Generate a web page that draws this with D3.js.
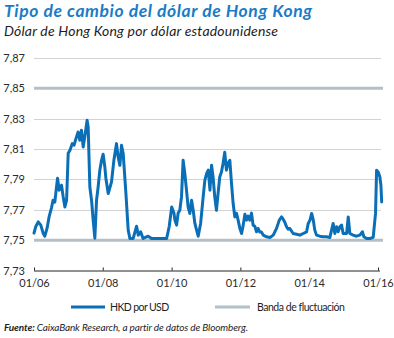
<!DOCTYPE html>
<html>
<head>
<meta charset="utf-8">
<script src="https://cdn.jsdelivr.net/npm/d3@7"></script>
<style>
  html, body { margin: 0; padding: 0; background: #fff; }
  svg { display: block; font-family: Lato, "Open Sans", sans-serif; }
</style>
</head>
<body>
<svg id="chart" width="394" height="338"></svg>
<script>
// ---- Data ----
const dates = [
  "2006-01-01","2006-01-21","2006-02-15","2006-03-14","2006-04-08","2006-04-26","2006-05-20","2006-06-10",
  "2006-07-05","2006-07-22","2006-08-10","2006-08-28","2006-09-08","2006-09-25","2006-10-20","2006-11-07",
  "2006-11-25","2006-12-13","2006-12-30","2007-01-18","2007-02-11","2007-03-02","2007-03-28","2007-04-14",
  "2007-05-02","2007-05-20","2007-06-07","2007-06-25","2007-07-19","2007-07-30","2007-08-17","2007-09-04",
  "2007-09-21","2007-10-09","2007-10-27","2007-11-13","2007-12-01","2007-12-19","2008-01-05","2008-01-23",
  "2008-02-03","2008-02-28","2008-04-03","2008-04-28","2008-05-26","2008-06-12","2008-07-01","2008-07-18",
  "2008-08-05","2008-09-03","2008-09-27","2008-10-15","2008-11-19","2008-12-25","2009-01-12","2009-02-06",
  "2009-03-04","2009-04-27","2009-06-02","2009-08-12","2009-11-09","2009-12-06","2010-01-02","2010-01-26",
  "2010-02-05","2010-02-23","2010-03-11","2010-03-29","2010-04-16","2010-05-03","2010-05-21","2010-06-08",
  "2010-06-25","2010-07-13","2010-08-01","2010-08-18","2010-09-05","2010-09-23","2010-10-10","2010-11-05",
  "2010-12-02","2010-12-20","2011-01-08","2011-01-25","2011-02-12","2011-03-01","2011-03-17","2011-04-04",
  "2011-04-22","2011-05-09","2011-05-27","2011-06-14","2011-07-01","2011-07-19","2011-08-06","2011-08-23",
  "2011-09-11","2011-09-29","2011-10-16","2011-11-03","2011-11-21","2011-12-08","2011-12-26","2012-01-14",
  "2012-01-31","2012-02-18","2012-03-06","2012-03-23","2012-04-10","2012-04-28","2012-05-15","2012-06-02",
  "2012-06-20","2012-07-07","2012-07-25","2012-08-12","2012-08-30","2012-10-05","2012-11-10","2012-12-15",
  "2013-01-20","2013-02-17","2013-03-13","2013-03-30","2013-04-17","2013-05-05","2013-05-22","2013-06-09",
  "2013-07-14","2013-08-20","2013-09-24","2013-10-29","2013-12-04","2013-12-21","2014-01-09","2014-01-27",
  "2014-02-13","2014-03-01","2014-03-19","2014-04-23","2014-05-28","2014-07-03","2014-08-08","2014-08-26",
  "2014-09-12","2014-09-30","2014-10-18","2014-11-04","2014-11-22","2014-12-10","2014-12-27","2015-02-02",
  "2015-02-19","2015-03-08","2015-04-12","2015-05-18","2015-06-22","2015-07-20","2015-08-04","2015-09-02",
  "2015-10-07","2015-11-11","2015-12-06","2015-12-17","2016-01-03","2016-01-21","2016-02-01","2016-02-09"
];
const hkd = [
  7.7546,7.7592,7.7620,7.7599,7.7546,7.7526,7.7579,7.7653,
  7.7711,7.7763,7.7750,7.7851,7.7908,7.7829,7.7862,7.7785,
  7.7719,7.7763,7.8072,7.8092,7.8136,7.8125,7.8180,7.8213,
  7.8158,7.8224,7.8114,7.8184,7.8290,7.8246,7.7849,7.7763,
  7.7632,7.7513,7.7763,7.7851,7.7961,7.8026,7.8066,7.7982,
  7.7908,7.7807,7.7884,7.8026,7.8136,7.8048,7.7993,7.8125,
  7.8070,7.7807,7.7566,7.7511,7.7511,7.7592,7.7533,7.7555,
  7.7511,7.7526,7.7511,7.7511,7.7511,7.7588,7.7719,7.7678,
  7.7632,7.7599,7.7678,7.7697,7.7785,7.8026,7.7939,7.7829,
  7.7719,7.7676,7.7763,7.7697,7.7610,7.7566,7.7526,7.7610,
  7.7785,7.7895,7.7939,7.7961,7.7829,7.7993,7.7916,7.7785,
  7.7697,7.7807,7.7916,7.7949,7.8005,7.8079,7.7961,7.8007,
  7.8026,7.7873,7.7743,7.7653,7.7676,7.7632,7.7579,7.7544,
  7.7599,7.7671,7.7632,7.7658,7.7632,7.7678,7.7599,7.7592,
  7.7555,7.7577,7.7553,7.7553,7.7533,7.7522,7.7518,7.7533,
  7.7579,7.7632,7.7653,7.7638,7.7618,7.7588,7.7572,7.7577,
  7.7544,7.7539,7.7533,7.7544,7.7555,7.7610,7.7632,7.7676,
  7.7632,7.7566,7.7533,7.7526,7.7522,7.7522,7.7518,7.7566,
  7.7610,7.7544,7.7588,7.7555,7.7588,7.7599,7.7544,7.7544,
  7.7653,7.7544,7.7533,7.7526,7.7533,7.7555,7.7522,7.7511,
  7.7511,7.7518,7.7678,7.7961,7.7949,7.7916,7.7862,7.7752
];
const bandValues = [7.75, 7.85];
const yTicks = [7.73, 7.75, 7.77, 7.79, 7.81, 7.83, 7.85, 7.87];
const xTickLabels = ["01/06","01/08","01/10","01/12","01/14","01/16"];
const xTickDates = ["2006-01-01","2008-01-01","2010-01-01","2012-01-01","2014-01-01","2016-01-01"];
const title = "Tipo de cambio del dólar de Hong Kong";
const subtitle = "Dólar de Hong Kong por dólar estadounidense";
const legendLabels = ["HKD por USD", "Banda de fluctuación"];
const sourceBold = "Fuente:";
const sourceText = " CaixaBank Research, a partir de datos de Bloomberg.";

// ---- Styles ----
const BLUE = "#0b6fb8";
const TITLE_BLUE = "#1b7cc6";
const BAND = "#b4c0c7";
const GRID = "#d2d2d2";
const TEXT = "#2b2b2b";

const svg = d3.select("#chart");
const parse = d3.timeParse("%Y-%m-%d");
const data = dates.map((d, i) => ({ date: parse(d), value: hkd[i] }));

const x = d3.scaleTime()
  .domain([parse("2006-01-01"), parse("2016-01-01")])
  .range([34, 378]);
const y = d3.scaleLinear().domain([7.73, 7.87]).range([270.5, 58]);
const gridRight = 381;

const locale = d3.formatLocale({ decimal: ",", thousands: ".", grouping: [3], currency: ["", "€"] });
const yFmt = locale.format(".2f");

// fit a text to a target width by adjusting letter-spacing (font size stays fixed)
function fit(sel, target) {
  const n = sel.node();
  const len = n.getComputedTextLength();
  const chars = n.textContent.length;
  if (len > 0 && chars > 1) {
    const ls = Math.max(-0.6, Math.min(1.2, (target - len) / (chars - 1)));
    sel.attr("letter-spacing", ls.toFixed(3));
  }
}

// Title & subtitle
const t = svg.append("text").attr("x", 4).attr("y", 17)
  .attr("font-size", 17.5).attr("font-weight", 700).attr("font-style", "italic")
  .attr("fill", TITLE_BLUE).text(title);
fit(t, 308);
const st = svg.append("text").attr("x", 4).attr("y", 36)
  .attr("font-size", 14).attr("font-style", "italic")
  .attr("fill", "#1e1e1e").text(subtitle);
fit(st, 274);

// Gridlines
svg.append("g").selectAll("line")
  .data(yTicks.filter(v => v > 7.735 && !bandValues.includes(v)))
  .join("line")
  .attr("x1", 34).attr("x2", gridRight)
  .attr("y1", d => Math.round(y(d)) + 0.5).attr("y2", d => Math.round(y(d)) + 0.5)
  .attr("stroke", GRID).attr("stroke-width", 1);

// Band lines
svg.append("g").selectAll("line")
  .data(bandValues)
  .join("line")
  .attr("x1", 34).attr("x2", 383)
  .attr("y1", d => y(d)).attr("y2", d => y(d))
  .attr("stroke", BAND).attr("stroke-width", 3);

// Y axis labels
const yAxis = d3.axisLeft(y).tickValues(yTicks).tickFormat(yFmt).tickSize(0).tickPadding(9);
const gy = svg.append("g").attr("transform", "translate(34,0)").call(yAxis);
gy.select(".domain").remove();
gy.selectAll("text").attr("font-size", 11).attr("fill", TEXT).attr("font-family", "Lato, sans-serif");

// X axis
const xAxis = d3.axisBottom(x)
  .tickValues(xTickDates.map(parse))
  .tickFormat((d, i) => xTickLabels[i])
  .tickSizeInner(-3).tickSizeOuter(0).tickPadding(9);
const gx = svg.append("g").attr("transform", `translate(0,${y(7.73)})`).call(xAxis);
gx.select(".domain").attr("stroke", "#222").attr("d", `M34,0.5H380`);
gx.selectAll(".tick line").attr("stroke", "#222");
gx.selectAll("text").attr("font-size", 11).attr("fill", TEXT).attr("font-family", "Lato, sans-serif");

// Series line
const line = d3.line().x(d => x(d.date)).y(d => y(d.value)).curve(d3.curveLinear);
svg.append("path").datum(data)
  .attr("d", line)
  .attr("fill", "none").attr("stroke", BLUE).attr("stroke-width", 3)
  .attr("stroke-linejoin", "round").attr("stroke-linecap", "round");

// Legend
const lg = svg.append("g");
lg.append("line").attr("x1", 71).attr("x2", 105).attr("y1", 307).attr("y2", 307)
  .attr("stroke", BLUE).attr("stroke-width", 3);
const l1 = lg.append("text").attr("x", 110).attr("y", 311).attr("font-size", 10.5)
  .attr("fill", "#1e1e1e").text(legendLabels[0]);
fit(l1, 57);
lg.append("line").attr("x1", 215).attr("x2", 250).attr("y1", 307).attr("y2", 307)
  .attr("stroke", BAND).attr("stroke-width", 3);
const l2 = lg.append("text").attr("x", 257).attr("y", 311).attr("font-size", 10.5)
  .attr("fill", "#1e1e1e").text(legendLabels[1]);
fit(l2, 88);

// Source
const src = svg.append("text").attr("x", 4).attr("y", 331).attr("font-size", 10)
  .attr("font-style", "italic").attr("fill", "#1e1e1e");
src.append("tspan").attr("font-weight", 700).text(sourceBold);
src.append("tspan").text(sourceText);
fit(src, 244);
</script>
</body>
</html>
